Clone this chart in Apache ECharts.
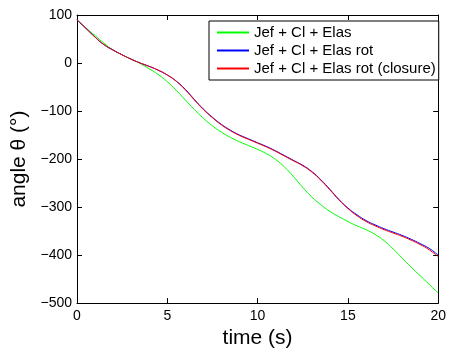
<!DOCTYPE html>
<html>
<head>
<meta charset="utf-8">
<script src="https://cdn.jsdelivr.net/npm/echarts@6/dist/echarts.min.js"></script>
<style>html,body{margin:0;padding:0;background:#fff;}#c{width:449px;height:354px;}</style>
</head>
<body>
<div id="c"></div>
<script>
const time = [0,0.5,1,1.5,2,2.5,3,3.5,4,4.5,5,5.5,6,6.5,7,7.5,8,8.5,9,9.5,10,10.5,11,11.5,12,12.5,13,13.5,14,14.5,15,15.5,16,16.5,17,17.5,18,18.5,19,19.5,20];
const elas = [90,73,57,41,27,17,8,-1,-12,-24,-39,-57,-77,-97,-115,-131,-144,-155,-164,-172,-180,-189,-201,-217,-237,-259,-279,-295,-309,-320,-330,-339,-347,-357,-370,-387,-406,-425,-443,-461,-479];
const elasRot = [90,72,54,38,27,17,8,0,-7,-15,-25,-38,-55,-76,-96,-113,-128,-140,-150,-158,-166,-174,-183,-193,-203,-213,-226,-243,-263,-284,-302,-316,-328,-337,-345,-352,-359,-367,-376,-386,-400];
const elasRotClosure = [90,72,54,38,27,17,8,0,-7,-15,-25,-38,-56,-77,-97,-114,-129,-141,-151,-159,-167,-175,-184,-194,-204,-214,-227,-244,-264,-285,-303,-318,-330,-339,-347,-354,-361,-369,-378,-389,-403];
const seriesNames = ['Jef + Cl + Elas','Jef + Cl + Elas rot','Jef + Cl + Elas rot (closure)'];
const xTitle = 'time (s)';
const yTitle = 'angle θ (°)';

const font = "'Liberation Sans', Arial, Helvetica, sans-serif";
const chart = echarts.init(document.getElementById('c'));
const pair = arr => time.map((t,i)=>[t,arr[i]]);
const fmt = v => String(v).replace('-', '\u2212');
const axisCommon = {
  axisLine:{show:true,onZero:false,lineStyle:{color:'#000',width:1}},
  axisTick:{show:true,inside:true,length:5,lineStyle:{color:'#000'}},
  splitLine:{show:false}
};
chart.setOption({
  animation:false,
  backgroundColor:'#fff',
  grid:{left:77,right:5,top:15,bottom:47,containLabel:false},
  xAxis:[
    Object.assign({type:'value',min:0,max:20,interval:5,position:'bottom',
      name:xTitle,nameLocation:'middle',nameGap:13,
      nameTextStyle:{fontFamily:font,fontSize:21,color:'#000'},
      axisLabel:{fontFamily:font,fontSize:14,color:'#000',margin:6,formatter:fmt}},axisCommon),
    Object.assign({type:'value',min:0,max:20,interval:5,position:'top',
      axisLabel:{show:false}},axisCommon)
  ],
  yAxis:[
    Object.assign({type:'value',min:-500,max:100,interval:100,position:'left',
      name:yTitle,nameLocation:'middle',nameGap:46,
      nameTextStyle:{fontFamily:font,fontSize:21,color:'#000'},
      axisLabel:{fontFamily:font,fontSize:14,color:'#000',margin:5,formatter:fmt}},axisCommon),
    Object.assign({type:'value',min:-500,max:100,interval:100,position:'right',
      axisLabel:{show:false}},axisCommon)
  ],
  legend:{
    orient:'vertical',left:209,top:21,
    backgroundColor:'#fff',borderColor:'#000',borderWidth:1,
    padding:[4,3,4,7],itemGap:3,itemWidth:32,itemHeight:16,
    itemStyle:{opacity:0},
    textStyle:{fontFamily:font,fontSize:15,color:'#000'},
    data:seriesNames
  },
  series:[
    {name:seriesNames[0],type:'line',data:pair(elas),symbol:'none',smooth:0.5,lineStyle:{color:'#00ff00',width:1},itemStyle:{color:'#00ff00'}},
    {name:seriesNames[1],type:'line',data:pair(elasRot),symbol:'none',smooth:0.5,lineStyle:{color:'#0000ff',width:1},itemStyle:{color:'#0000ff'}},
    {name:seriesNames[2],type:'line',data:pair(elasRotClosure),symbol:'none',smooth:0.5,lineStyle:{color:'#ff0000',width:1},itemStyle:{color:'#ff0000'}}
  ]
});
</script>
</body>
</html>
